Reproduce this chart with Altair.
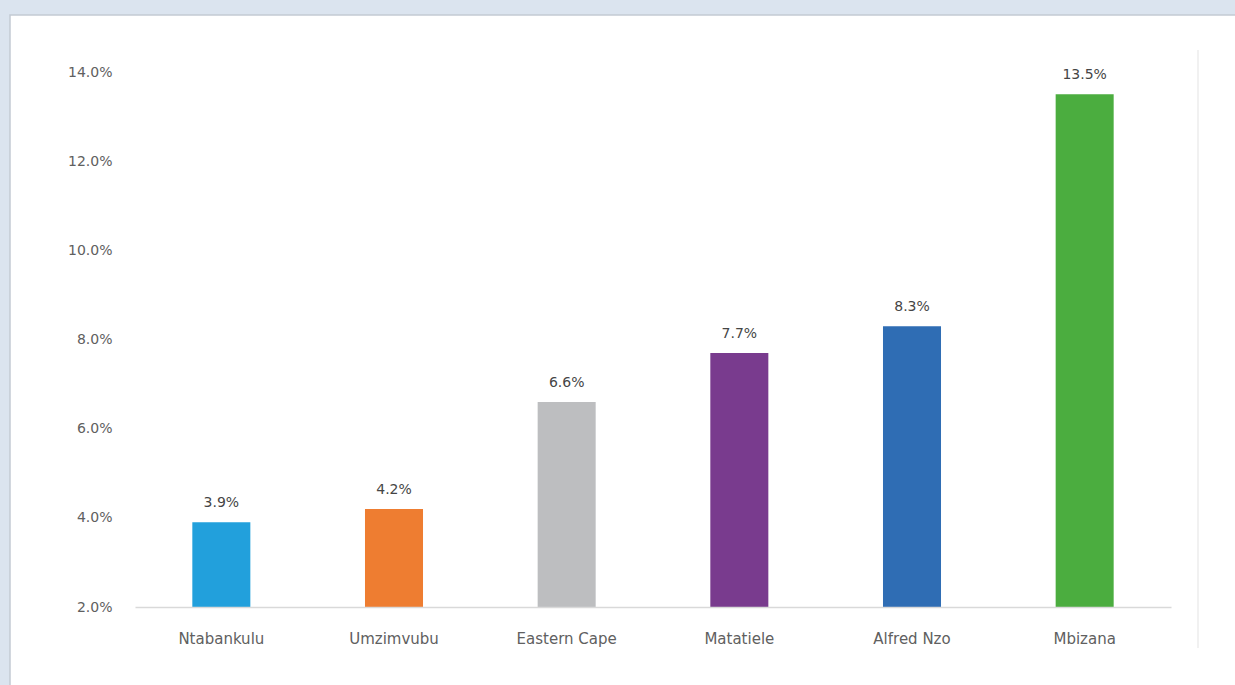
import altair as alt
import pandas as pd

categories = ["Ntabankulu", "Umzimvubu", "Eastern Cape", "Matatiele", "Alfred Nzo", "Mbizana"]
values = [3.9, 4.2, 6.6, 7.7, 8.3, 13.5]
colors = ["#22a0dc", "#ee7d31", "#bdbec0", "#793b8e", "#2f6db4", "#4bad3f"]
y_ticks = [2, 4, 6, 8, 10, 12, 14]

df = pd.DataFrame({
    "region": categories,
    "value": values,
    "color": colors,
    "label": [f"{v:.1f}%" for v in values],
})

W, H = 1036, 535
PL, PT = 135, 72
FONT = "DejaVu Sans"

one = pd.DataFrame({"a": [0]})

panel = alt.Chart(one).mark_rect(fill="white", stroke="#c3cad4", strokeWidth=1.5).encode(
    x=alt.value(10 - PL), x2=alt.value(1240 - PL),
    y=alt.value(15 - PT), y2=alt.value(690 - PT),
)

divider = alt.Chart(one).mark_rule(color="#ececec", strokeWidth=1.5).encode(
    x=alt.value(1198 - PL), y=alt.value(50 - PT), y2=alt.value(648 - PT),
)

base = alt.Chart(df).encode(
    x=alt.X(
        "region:N", sort=categories, title=None,
        scale=alt.Scale(paddingInner=0.664, paddingOuter=0.332),
        axis=alt.Axis(
            labelAngle=0, ticks=False, domainColor="#d9d9d9", domainWidth=1.5,
            labelColor="#606060", labelFont=FONT, labelFontSize=15,
            labelPadding=24, labelBaseline="top", zindex=1,
        ),
    ),
    y=alt.Y(
        "value:Q", title=None,
        scale=alt.Scale(domain=[2, 14], nice=False, zero=False),
        axis=alt.Axis(
            values=y_ticks, labelExpr="format(datum.value, '.1f') + '%'",
            grid=False, domain=False, ticks=False, labelPadding=23,
            labelColor="#606060", labelFont=FONT, labelFontSize=14, zindex=1,
        ),
    ),
)

bars = base.mark_bar().encode(
    y2=alt.datum(2),
    color=alt.Color("color:N", scale=None),
)

labels = base.mark_text(baseline="bottom", dy=-12, fontSize=14, font=FONT, color="#454545").encode(
    text="label:N",
)

chart = alt.layer(panel, divider, bars, labels).properties(
    width=W, height=H,
    autosize=alt.AutoSizeParams(type="none"),
    padding={"left": PL, "top": PT, "right": 1235 - PL - W, "bottom": 685 - PT - H},
).configure(background="#dbe4ef").configure_view(stroke=None)

chart.save("out.html", embed_options={"renderer": "svg", "actions": False})
